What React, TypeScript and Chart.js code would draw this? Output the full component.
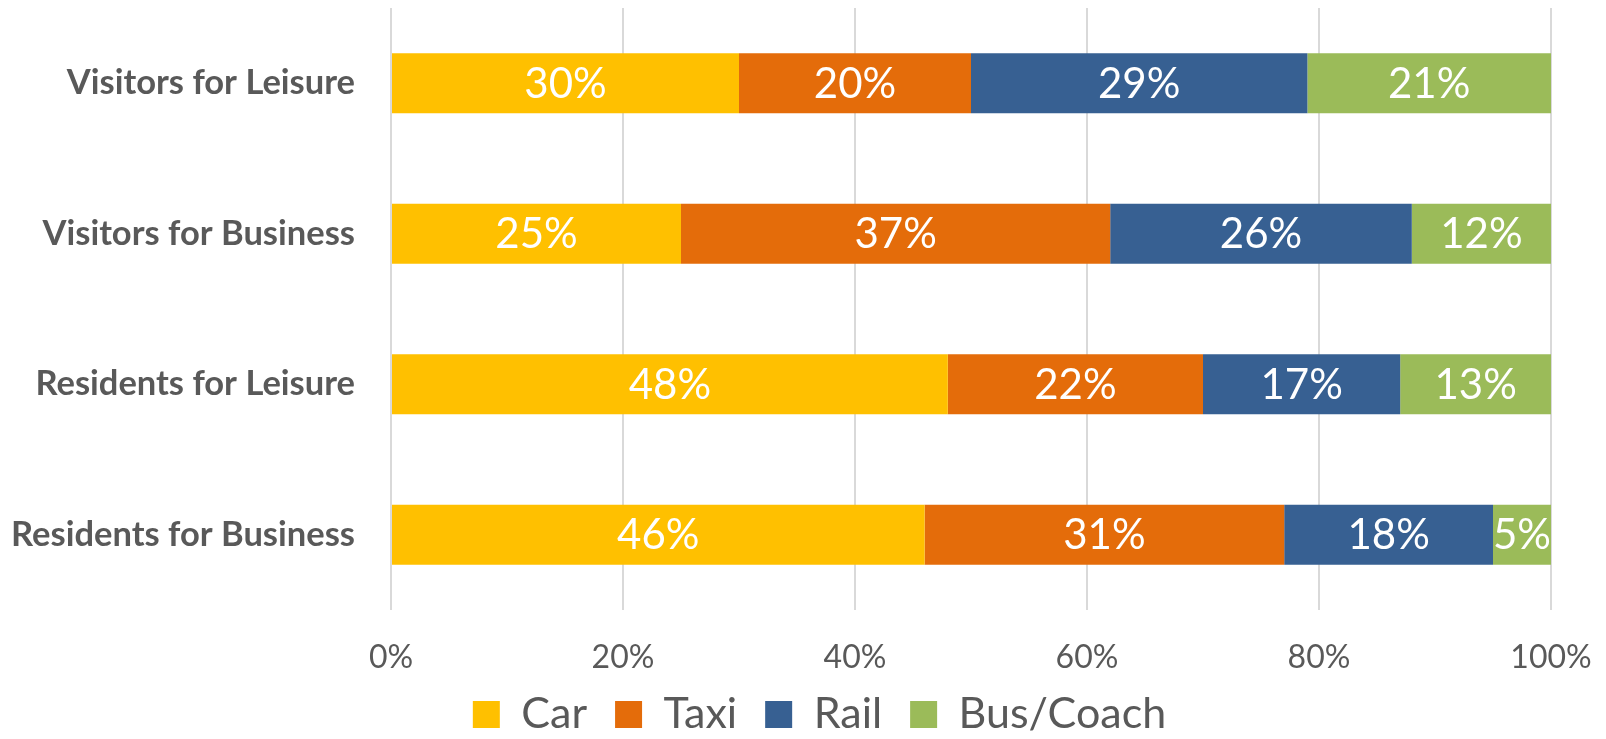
import React, { useEffect, useRef } from "react";
import { Chart, registerables } from "chart.js";

Chart.register(...registerables);

const categories = [
  "Visitors for Leisure",
  "Visitors for Business",
  "Residents for Leisure",
  "Residents for Business",
];
const seriesNames = ["Car", "Taxi", "Rail", "Bus/Coach"];
const carValues = [30, 25, 48, 46];
const taxiValues = [20, 37, 22, 31];
const railValues = [29, 26, 17, 18];
const busValues = [21, 12, 13, 5];
const seriesColors = ["#FFC000", "#E46C0A", "#376092", "#9BBB59"];
const xTickValues = [0, 20, 40, 60, 80, 100];

const TEXT = "#595959";
const FONT = "Lato";

const barLabelPlugin = {
  id: "barLabels",
  afterLayout(chart: any) {
    // shift the legend's horizontal band so its centre matches the reference
    if (chart.legend) chart.legend.left = 80;
    // let x tick labels draw below the (compact) axis box without clipping
    if (chart.scales.x) chart.scales.x.bottom = chart.height;
  },
  afterDatasetsDraw(chart: any) {
    const ctx = chart.ctx;
    ctx.save();
    ctx.fillStyle = "#FFFFFF";
    ctx.font = `42px ${FONT}`;
    ctx.textAlign = "center";
    ctx.textBaseline = "middle";
    chart.data.datasets.forEach((ds: any, i: number) => {
      const meta = chart.getDatasetMeta(i);
      if (meta.hidden) return;
      meta.data.forEach((el: any, j: number) => {
        const v = ds.data[j];
        const cx = (el.x + el.base) / 2;
        ctx.fillText(`${v}%`, cx, el.y + 1);
      });
    });
    ctx.restore();
  },
};

export default function App() {
  const ref = useRef<HTMLCanvasElement | null>(null);

  useEffect(() => {
    if (!ref.current) return;
    const values = [carValues, taxiValues, railValues, busValues];
    const chart = new Chart(ref.current, {
      type: "bar",
      data: {
        labels: categories,
        datasets: seriesNames.map((name, i) => ({
          label: name,
          data: values[i],
          backgroundColor: seriesColors[i],
          borderWidth: 0,
          barPercentage: 0.4,
          categoryPercentage: 1,
        })),
      },
      options: {
        indexAxis: "y",
        responsive: false,
        animation: false,
        layout: { padding: { left: 0, right: 47, top: 0, bottom: 0 } },
        scales: {
          x: {
            stacked: true,
            min: 0,
            max: 100,
            afterBuildTicks: (scale: any) => {
              scale.ticks = xTickValues.map((v) => ({ value: v }));
            },
            afterFit: (scale: any) => {
              scale.height = 55;
              scale.paddingLeft = 0;
              scale.paddingRight = 0;
            },
            grid: { color: "#D9D9D9", lineWidth: 2, drawTicks: false },
            border: { display: false },
            ticks: {
              padding: 28,
              color: TEXT,
              font: { family: FONT, size: 32 },
              callback: (v: any) => `${v}%`,
            },
          },
          y: {
            stacked: true,
            afterFit: (scale: any) => {
              scale.width = 383;
              scale.paddingTop = 0;
              scale.paddingBottom = 0;
            },
            grid: { display: false, drawTicks: false },
            border: { display: false },
            ticks: {
              padding: 36,
              color: TEXT,
              font: { family: FONT, size: 34.5, weight: "bold" },
            },
          },
        },
        plugins: {
          legend: {
            position: "bottom",
            labels: {
              boxWidth: 27,
              boxHeight: 27,
              padding: 28,
              color: TEXT,
              font: { family: FONT, size: 43 },
            },
          },
          tooltip: { enabled: false },
        },
      },
      plugins: [barLabelPlugin],
    });
    return () => chart.destroy();
  }, []);

  return (
    <div style={{ height: 731, overflow: "hidden", marginBottom: -8 }}>
      <canvas ref={ref} width={1590} height={738} style={{ display: "block" }} />
    </div>
  );
}
